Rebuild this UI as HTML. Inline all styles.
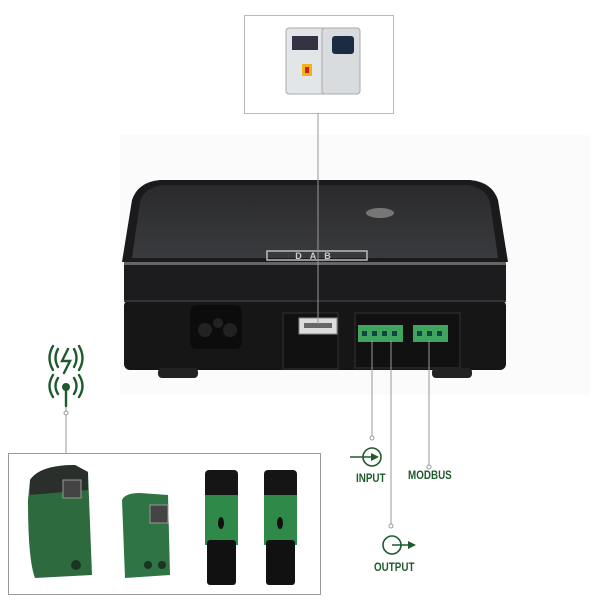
<!DOCTYPE html>
<html><head><style>
body{margin:0;width:602px;height:609px;background:#fff;position:relative;overflow:hidden;font-family:"Liberation Sans",sans-serif}
.a{position:absolute}
.lbl{position:absolute;font-weight:bold;font-size:12px;color:#1f5a2c;transform:scaleX(0.82);transform-origin:left}
</style></head><body>
<div class="a" style="left:120px;top:135px;width:470px;height:260px;background:#fbfbfb"></div>
<svg class="a" style="left:0;top:0" width="602" height="609">
 <defs>
  <linearGradient id="tg" x1="0" y1="0" x2="0" y2="1">
   <stop offset="0" stop-color="#2a2a2c"/><stop offset="1" stop-color="#3a3b3e"/>
  </linearGradient>
 </defs>
 <rect x="244.5" y="15.5" width="149" height="98" fill="#fff" stroke="#bbb"/>
 <rect x="286" y="28" width="40" height="66" rx="3" fill="#e3e6e8" stroke="#aaa"/>
 <rect x="322" y="28" width="38" height="66" rx="3" fill="#d8dcde" stroke="#aaa"/>
 <rect x="292" y="36" width="26" height="14" fill="#334"/>
 <rect x="332" y="36" width="22" height="18" rx="3" fill="#1c2b44"/>
 <rect x="302" y="64" width="10" height="12" fill="#f2b21c"/>
 <rect x="305" y="67" width="4" height="6" fill="#c22"/>
 <!-- device -->
 <path d="M160 180 L470 180 Q492 182 498 200 L508 262 L122 262 L132 200 Q138 182 160 180 Z" fill="#1a1a1c"/>
 <path d="M162 185 L468 185 Q486 188 490 202 L498 258 L132 258 L140 202 Q144 188 162 185Z" fill="url(#tg)"/>
 <rect x="124" y="262" width="382" height="40" fill="#1c1c1e"/>
 <rect x="124" y="300" width="382" height="70" rx="6" fill="#161617"/>
 <rect x="124" y="262" width="382" height="3" fill="#666"/>
 <rect x="124" y="300" width="382" height="2" fill="#333"/>
 <ellipse cx="380" cy="213" rx="14" ry="5" fill="#777"/>
 <rect x="267" y="251" width="100" height="9" fill="none" stroke="#bbb" stroke-width="1.5"/>
 <text x="317" y="259" font-size="9" fill="#ccc" text-anchor="middle" font-family="Liberation Sans" font-weight="bold" letter-spacing="8">DAB</text>
 <rect x="190" y="305" width="52" height="44" rx="6" fill="#0c0c0c"/>
 <circle cx="205" cy="330" r="7" fill="#222"/><circle cx="218" cy="323" r="5" fill="#222"/><circle cx="230" cy="330" r="7" fill="#222"/>
 <rect x="283" y="313" width="55" height="56" fill="#111" stroke="#333"/>
 <rect x="299" y="318" width="38" height="16" fill="#ddd" stroke="#888"/>
 <rect x="304" y="323" width="28" height="5" fill="#666"/>
 <rect x="355" y="313" width="105" height="55" fill="#111" stroke="#333"/>
 <rect x="358" y="325" width="45" height="17" fill="#3fa45d"/>
 <rect x="413" y="325" width="35" height="17" fill="#3fa45d"/>
 <g fill="#144">
 <rect x="362" y="331" width="5" height="5"/><rect x="372" y="331" width="5" height="5"/><rect x="382" y="331" width="5" height="5"/><rect x="392" y="331" width="5" height="5"/>
 <rect x="417" y="331" width="5" height="5"/><rect x="427" y="331" width="5" height="5"/><rect x="437" y="331" width="5" height="5"/>
 </g>
 <rect x="158" y="368" width="40" height="10" rx="4" fill="#222"/>
 <rect x="432" y="368" width="40" height="10" rx="4" fill="#222"/>
 <g stroke="#999" stroke-width="1" fill="#fff">
 <line x1="318" y1="113" x2="318" y2="324"/>
 <line x1="372" y1="340" x2="372" y2="436"/><circle cx="372" cy="438" r="2"/>
 <line x1="391" y1="340" x2="391" y2="524"/><circle cx="391" cy="526" r="2"/>
 <line x1="429" y1="340" x2="429" y2="465"/><circle cx="429" cy="467" r="2"/>
 <line x1="66" y1="395" x2="66" y2="411"/><circle cx="66" cy="413" r="2"/>
 <line x1="66" y1="415" x2="66" y2="453"/>
 <rect x="8.5" y="453.5" width="312" height="141"/>
 </g>
 <g stroke="#1f5a2c" stroke-width="1.6" fill="none">
 <circle cx="372" cy="457" r="9"/><line x1="350" y1="457" x2="374" y2="457"/>
 <circle cx="392" cy="545" r="9"/><line x1="392" y1="545" x2="410" y2="545"/>
 </g>
 <path d="M371 453 L379 457 L371 461Z" fill="#1f5a2c"/>
 <path d="M408 541 L416 545 L408 549Z" fill="#1f5a2c"/>
 <g stroke="#1f5a2c" stroke-width="2.4" fill="none" stroke-linecap="round">
 <path d="M58 349 Q53 358 58 367"/><path d="M53 346 Q46 358 53 370"/>
 <path d="M74 349 Q79 358 74 367"/><path d="M79 346 Q86 358 79 370"/>
 <path d="M68 349 L62 361 L70 361 L64 373"/>
 <path d="M58 378 Q53 386 58 394"/><path d="M53 375 Q46 386 53 397"/>
 <path d="M74 378 Q79 386 74 394"/><path d="M79 375 Q86 386 79 397"/>
 <line x1="66" y1="388" x2="66" y2="406"/>
 </g>
 <circle cx="66" cy="387" r="4" fill="#1f5a2c"/>
 <path d="M30 480 Q40 465 75 465 L88 472 L92 575 L35 578 Q28 560 28 500Z" fill="#2d6b3f"/>
 <path d="M30 480 Q40 465 75 465 L88 472 L88 490 L30 495Z" fill="#2a2f2c"/>
 <rect x="63" y="480" width="18" height="18" fill="#444" stroke="#999"/>
 <circle cx="76" cy="565" r="5" fill="#1a3322"/>
 <path d="M122 500 Q125 493 140 493 L168 495 L170 575 L125 578Z" fill="#2f7445"/>
 <rect x="150" y="505" width="18" height="18" fill="#444" stroke="#999"/>
 <circle cx="148" cy="565" r="4" fill="#1a3322"/><circle cx="162" cy="565" r="4" fill="#1a3322"/>
 <rect x="205" y="470" width="33" height="30" rx="4" fill="#151515"/>
 <rect x="205" y="495" width="33" height="50" fill="#2f8a4a"/>
 <rect x="207" y="540" width="29" height="45" rx="3" fill="#111"/>
 <ellipse cx="221" cy="523" rx="3" ry="6" fill="#111"/>
 <rect x="264" y="470" width="33" height="30" rx="4" fill="#151515"/>
 <rect x="264" y="495" width="33" height="50" fill="#2f8a4a"/>
 <rect x="266" y="540" width="29" height="45" rx="3" fill="#111"/>
 <ellipse cx="280" cy="523" rx="3" ry="6" fill="#111"/>
</svg>
<div class="lbl" style="left:356px;top:471px">INPUT</div>
<div class="lbl" style="left:408px;top:468px">MODBUS</div>
<div class="lbl" style="left:374px;top:560px">OUTPUT</div>
</body></html>
